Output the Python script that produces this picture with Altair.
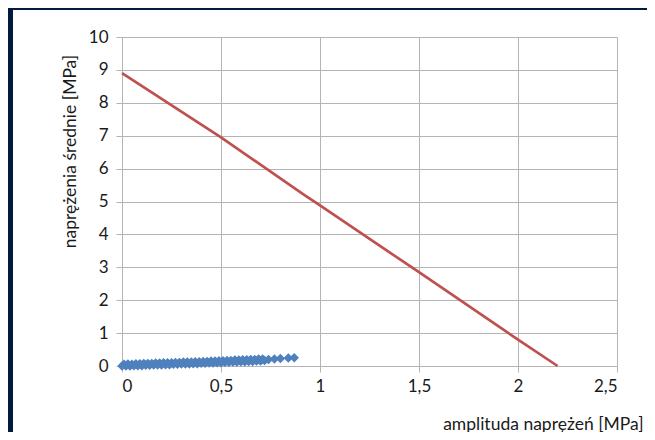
import altair as alt
import pandas as pd

# Red limit line (amplitude, mean stress)
red_x = [0.0, 0.5, 0.92, 1.0, 1.5, 2.0, 2.2]
red_y = [8.9, 6.95, 5.2, 4.88, 2.85, 0.8, 0.0]

# Blue measurement points (diamonds)
blue_x = [0.00, 0.01, 0.02, 0.03, 0.04, 0.05, 0.06, 0.07, 0.08, 0.09,
          0.10, 0.11, 0.12, 0.13, 0.14, 0.15, 0.16, 0.17, 0.18, 0.19,
          0.20, 0.21, 0.22, 0.23, 0.24, 0.25, 0.26, 0.27, 0.28, 0.29,
          0.30, 0.31, 0.32, 0.33, 0.34, 0.35, 0.36, 0.37, 0.38, 0.39,
          0.40, 0.41, 0.42, 0.43, 0.44, 0.45, 0.46, 0.47, 0.48, 0.49,
          0.50, 0.51, 0.52, 0.53, 0.54, 0.55, 0.56, 0.57, 0.58, 0.59,
          0.60, 0.61, 0.62, 0.63, 0.64, 0.65, 0.66, 0.67, 0.68, 0.69,
          0.70, 0.71, 0.72, 0.74, 0.77, 0.80, 0.84, 0.87]
blue_y = [0.00, 0.05, 0.00, 0.06, 0.00, 0.05, 0.01, 0.07, 0.01, 0.07,
          0.01, 0.08, 0.02, 0.08, 0.02, 0.08, 0.03, 0.09, 0.03, 0.09,
          0.03, 0.10, 0.04, 0.10, 0.04, 0.10, 0.05, 0.11, 0.05, 0.11,
          0.06, 0.12, 0.06, 0.12, 0.06, 0.12, 0.07, 0.13, 0.07, 0.13,
          0.08, 0.14, 0.08, 0.14, 0.09, 0.15, 0.09, 0.15, 0.10, 0.16,
          0.10, 0.16, 0.11, 0.17, 0.11, 0.17, 0.12, 0.18, 0.12, 0.18,
          0.13, 0.19, 0.13, 0.19, 0.14, 0.20, 0.14, 0.20, 0.15, 0.21,
          0.15, 0.21, 0.17, 0.20, 0.21, 0.23, 0.24, 0.25]

x_ticks = [0, 0.5, 1, 1.5, 2, 2.5]
y_ticks = [0, 1, 2, 3, 4, 5, 6, 7, 8, 9, 10]

x_title = "amplituda naprężeń [MPa]"
y_title = "naprężenia średnie [MPa]"

red_df = pd.DataFrame({"x": red_x, "y": red_y})
blue_df = pd.DataFrame({"x": blue_x, "y": blue_y})

FONT = "Lato"
GRID = "#b4b4b4"
NAVY = "#021a3e"

xscale = alt.Scale(domain=[0, 2.5], nice=False, zero=False)
yscale = alt.Scale(domain=[0, 10], nice=False, zero=False)

xaxis = alt.Axis(
    values=x_ticks, title=x_title, grid=True, gridColor=GRID, domainColor=GRID,
    tickColor=GRID, tickSize=6, labelFont=FONT, labelFontSize=17,
    labelColor="#1a1a1a", labelPadding=6, labelOverlap=False,
    labelExpr="replace(toString(datum.value), '.', ',')",
    titleFont=FONT, titleFontSize=17.5, titleFontWeight="normal", titleColor="#1a1a1a",
    titleX=521, titleY=58, titleAlign="right", titleBaseline="middle",
)
yaxis = alt.Axis(
    values=y_ticks, title=y_title, grid=True, gridColor=GRID, domainColor=GRID,
    tickColor=GRID, tickSize=6, labelFont=FONT, labelFontSize=17,
    labelColor="#1a1a1a", labelPadding=8, labelOverlap=False,
    titleFont=FONT, titleFontSize=17.5, titleFontWeight="normal", titleColor="#1a1a1a",
    titleX=-52, titleY=114, titleAngle=-90, titleAlign="center", titleBaseline="middle",
)

line = alt.Chart(red_df).mark_line(color="#c0504d", strokeWidth=2.7, clip=False).encode(
    x=alt.X("x:Q", scale=xscale, axis=xaxis),
    y=alt.Y("y:Q", scale=yscale, axis=yaxis),
)
pts = alt.Chart(blue_df).mark_point(
    shape="diamond", filled=True, color="#4f81bd", opacity=1, size=90, clip=False
).encode(
    x=alt.X("x:Q", scale=xscale, axis=xaxis),
    y=alt.Y("y:Q", scale=yscale, axis=yaxis),
)

# navy slide frame strips (left and top)
left_strip = alt.Chart(pd.DataFrame({"a": [0]})).mark_rect(color=NAVY, clip=False).encode(
    x=alt.value(-114), x2=alt.value(-109), y=alt.value(-29), y2=alt.value(395)
)
top_strip = alt.Chart(pd.DataFrame({"a": [0]})).mark_rect(color=NAVY, clip=False).encode(
    x=alt.value(-114), x2=alt.value(525), y=alt.value(-29), y2=alt.value(-27)
)

chart = alt.layer(left_strip, top_strip, line, pts).properties(
    width=495, height=329,
    autosize=alt.AutoSizeParams(type="none"),
    padding={"left": 114, "top": 29, "right": 30, "bottom": 66},
    background="white",
).configure_view(stroke=None)

chart.save("out.html", embed_options={"renderer": "svg", "actions": False})
